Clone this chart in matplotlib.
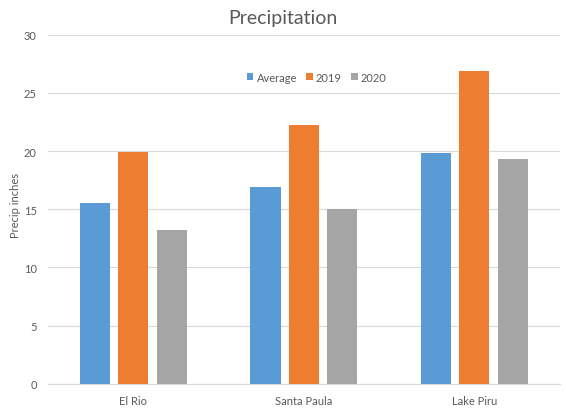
import numpy as np
import matplotlib
matplotlib.use("Agg")
import matplotlib.pyplot as plt

stations = ["El Rio", "Santa Paula", "Lake Piru"]
average = [15.5, 16.9, 19.83]
y2019 = [19.95, 22.25, 26.84]
y2020 = [13.2, 15.05, 19.3]

plt.rcParams['font.family'] = ['Lato', 'DejaVu Sans']
txt = '#595959'

fig = plt.figure(figsize=(5.66, 4.10), dpi=100)
ax = fig.add_axes([0.0848, 0.061, 0.9042, 0.8524])

x = np.arange(len(stations))
w = 0.176
step = 0.225
ax.bar(x - step, average, w, color='#5B9BD5', label='Average', zorder=3)
ax.bar(x, y2019, w, color='#ED7D31', label='2019', zorder=3)
ax.bar(x + step, y2020, w, color='#A5A5A5', label='2020', zorder=3)

ax.set_xlim(-0.5, 2.5)
ax.set_ylim(0, 30)
ax.set_yticks(range(0, 31, 5))
ax.set_xticks(x)
ax.set_xticklabels(stations)
ax.grid(axis='y', color='#D9D9D9', linewidth=0.8, zorder=0)
for s in ['top', 'right', 'left']:
    ax.spines[s].set_visible(False)
ax.spines['bottom'].set_color('#D9D9D9')
ax.tick_params(length=0, labelsize=8, labelcolor=txt, pad=8)
ax.tick_params(axis='y', pad=8)
ax.set_ylabel('Precip inches', fontsize=8, color=txt)
ax.yaxis.set_label_coords(-0.053, 0.515)

fig.suptitle('Precipitation', fontsize=14, color=txt, y=0.975)
ax.legend(loc='center', bbox_to_anchor=(0.525, 0.878), ncol=3, frameon=False,
          fontsize=8, labelcolor=txt, handlelength=0.6, handleheight=0.6,
          handletextpad=0.3, columnspacing=0.8)

fig.savefig('out.png', dpi=100)
